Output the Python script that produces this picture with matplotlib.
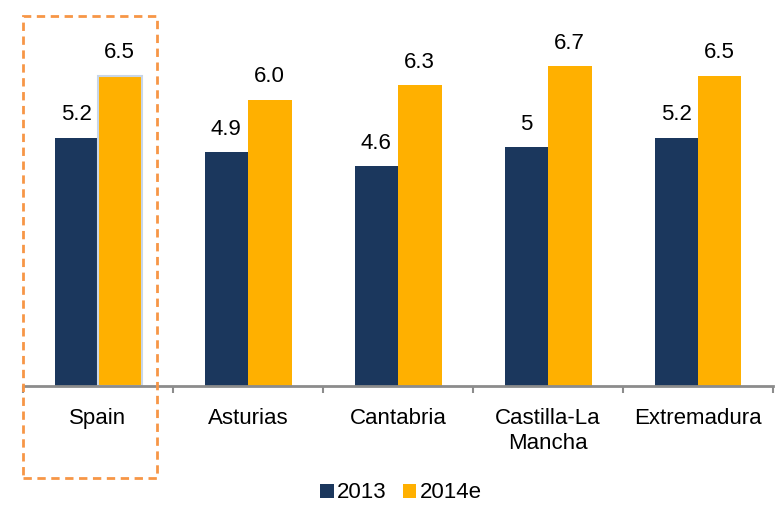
import matplotlib
matplotlib.use("Agg")
import matplotlib.pyplot as plt
from matplotlib.patches import Rectangle, Patch
import numpy as np

plt.rcParams['font.family'] = ['Liberation Sans', 'DejaVu Sans']

categories = ["Spain", "Asturias", "Cantabria", "Castilla-La\nMancha", "Extremadura"]
series_names = ["2013", "2014e"]
values_2013 = [5.2, 4.9, 4.6, 5.0, 5.2]
values_2014 = [6.5, 6.0, 6.3, 6.7, 6.5]

navy = '#1B375D'
gold = '#FFB000'

W, H = 776, 505
fig = plt.figure(figsize=(W / 100, H / 100), dpi=100)
ax = fig.add_axes([23 / W, 1 - 386 / H, 750 / W, (386 - 9) / H])

x = np.arange(len(categories))
bw = 0.29
b1 = ax.bar(x - bw / 2, values_2013, bw, color=navy, zorder=2)
b2 = ax.bar(x + bw / 2, values_2014, bw, color=gold, zorder=2)
# highlight edge on Spain 2014e bar
b2[0].set_edgecolor('#C9D6E8')
b2[0].set_linewidth(1.5)

fs = 16
for xi, v in zip(x, values_2013):
    ax.annotate(f"{v:g}", (xi - bw / 2, v), xytext=(0, 9), textcoords='offset points',
                ha='center', va='bottom', fontsize=fs)
for xi, v in zip(x, values_2014):
    ax.annotate(f"{v:.1f}", (xi + bw / 2, v), xytext=(0, 9), textcoords='offset points',
                ha='center', va='bottom', fontsize=fs)

ax.set_xlim(-0.5, len(categories) - 0.5)
ax.set_ylim(0, 7.9)
ax.set_yticks([])
for s in ['top', 'right', 'left']:
    ax.spines[s].set_visible(False)
ax.spines['bottom'].set_color('#8C8C8C')
ax.spines['bottom'].set_linewidth(2)

ax.set_xticks(np.arange(-0.5, len(categories)), minor=False)
ax.set_xticklabels([])
ax.tick_params(axis='x', which='major', length=5, width=1.5, color='#8C8C8C', direction='out')
ax.set_xticks(x, minor=True)
ax.set_xticklabels(categories, minor=True, fontsize=fs, linespacing=1.25)
ax.tick_params(axis='x', which='minor', length=0, pad=16)

handles = [Patch(facecolor=navy), Patch(facecolor=gold)]
fig.legend(handles=handles, labels=series_names, loc='center', bbox_to_anchor=(401 / W, 1 - 493 / H),
           ncol=2, frameon=False, fontsize=fs, handlelength=0.6, handleheight=0.6,
           handletextpad=0.15, columnspacing=0.75, borderpad=0)

rect = Rectangle((23 / W, 1 - 478 / H), (157 - 23) / W, (478 - 16) / H, transform=fig.transFigure,
                 fill=False, edgecolor='#F79646', linewidth=2, linestyle=(0, (3, 2)), zorder=5)
fig.patches.append(rect)

fig.savefig("out.png", dpi=100)
